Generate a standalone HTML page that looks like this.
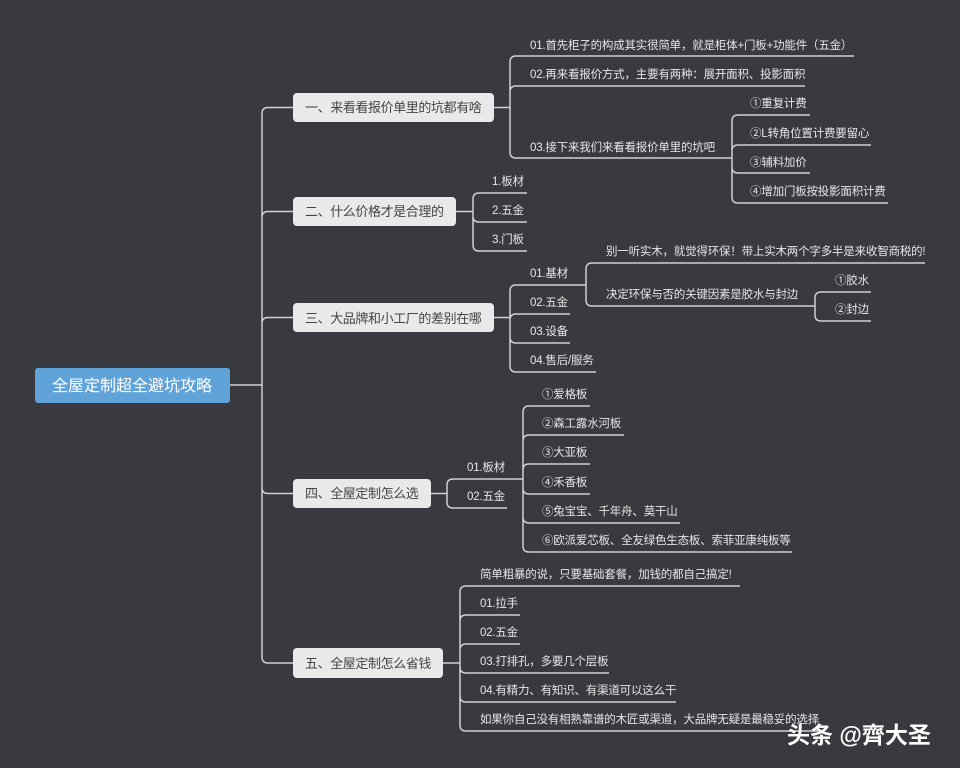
<!DOCTYPE html>
<html><head><meta charset="utf-8"><style>
html,body{margin:0;padding:0;background:#393a3f;}
svg{display:block}
text{font-family:"Liberation Sans","Noto Sans CJK SC",sans-serif;}
.m{font-size:13px;fill:#444;letter-spacing:-0.4px;}
.c{font-size:11.5px;fill:#e6e6e6;letter-spacing:-0.2px;}
</style></head><body>
<svg id="s" width="960" height="768" viewBox="0 0 960 768" xmlns="http://www.w3.org/2000/svg">
<rect width="960" height="768" fill="#393a3f"/>
<g id="lines" fill="none" stroke="#d0d0d0" stroke-width="1.5"></g>
<rect x="35" y="368" width="195" height="35" rx="3" fill="#5fa3d9"/>
<text x="132" y="391" text-anchor="middle" style="font-size:16px;fill:#fff">全屋定制超全避坑攻略</text>
<g fill="#e9e9e9">
<rect x="293" y="93" width="201" height="29" rx="4"/>
<rect x="293" y="197" width="163" height="29" rx="4"/>
<rect x="293" y="303" width="201" height="29" rx="4"/>
<rect x="293" y="479" width="138" height="29" rx="4"/>
<rect x="293" y="648" width="150" height="30" rx="4"/>
</g>
<text class="m" x="305" y="112">一、来看看报价单里的坑都有啥</text>
<text class="m" x="305" y="216">二、什么价格才是合理的</text>
<text class="m" x="305" y="323">三、大品牌和小工厂的差别在哪</text>
<text class="m" x="305" y="498">四、全屋定制怎么选</text>
<text class="m" x="305" y="668">五、全屋定制怎么省钱</text>
<g class="c">
<text x="530" y="49">01.首先柜子的构成其实很简单，就是柜体+门板+功能件（五金）</text>
<text x="530" y="78">02.再来看报价方式，主要有两种：展开面积、投影面积</text>
<text x="530" y="151">03.接下来我们来看看报价单里的坑吧</text>
<text x="750" y="107">①重复计费</text>
<text x="750" y="137">②L转角位置计费要留心</text>
<text x="750" y="166">③辅料加价</text>
<text x="750" y="195">④增加门板按投影面积计费</text>
<text x="492" y="185">1.板材</text>
<text x="492" y="214">2.五金</text>
<text x="492" y="243">3.门板</text>
<text x="530" y="277">01.基材</text>
<text x="530" y="306">02.五金</text>
<text x="530" y="335">03.设备</text>
<text x="530" y="364">04.售后/服务</text>
<text x="606" y="255">别一听实木，就觉得环保！带上实木两个字多半是来收智商税的!</text>
<text x="606" y="298">决定环保与否的关键因素是胶水与封边</text>
<text x="835" y="284">①胶水</text>
<text x="835" y="313">②封边</text>
<text x="467" y="471">01.板材</text>
<text x="467" y="500">02.五金</text>
<text x="542" y="398">①爱格板</text>
<text x="542" y="427">②森工露水河板</text>
<text x="542" y="456">③大亚板</text>
<text x="542" y="486">④禾香板</text>
<text x="542" y="515">⑤兔宝宝、千年舟、莫干山</text>
<text x="542" y="544">⑥欧派爱芯板、全友绿色生态板、索菲亚康纯板等</text>
<text x="480" y="578">简单粗暴的说，只要基础套餐，加钱的都自己搞定!</text>
<text x="480" y="607">01.拉手</text>
<text x="480" y="636">02.五金</text>
<text x="480" y="665">03.打排孔，多要几个层板</text>
<text x="480" y="694">04.有精力、有知识、有渠道可以这么干</text>
<text x="480" y="723">如果你自己没有相熟靠谱的木匠或渠道，大品牌无疑是最稳妥的选择</text>
</g>
<text x="787" y="743" style="font-size:23px;font-weight:bold;fill:#fff">头条 @齊大圣</text>
<script>
var g=document.getElementById('lines'),d='';
function br(px,py,bx,ch){
 d+='M'+px+','+py+'H'+bx;
 ch.forEach(function(c){var cy=c[0],e=c[1],r=6;
  if(Math.abs(cy-py)<1){d+='M'+bx+','+py+'H'+e;return;}
  var s=cy>py?1:-1;
  d+='M'+bx+','+py+'V'+(cy-s*r)+'Q'+bx+','+cy+' '+(bx+r)+','+cy+'H'+e;});
}
br(230,385,262,[[107.5,293],[211.5,293],[317.5,293],[493.5,293],[663,293]]);
br(494,107.5,510,[[56,854],[86,805],[158,732]]);
br(732,158,732,[[115,810],[145,871],[173,810],[203,888]]);
br(456,211.5,473,[[193,527],[222,527],[251,527]]);
br(494,317.5,510,[[285,586],[314,570],[343,570],[372,596]]);
br(586,285,586,[[263,925],[306,815]]);
br(815,306,815,[[292,871],[321,871]]);
br(431,493.5,447,[[479,523],[508,507]]);
br(523,479,523,[[406,590],[435,624],[464,590],[494,590],[523,680],[552,792]]);
br(443,663,460,[[586,740],[615,520],[644,520],[673,609],[702,676],[731,818]]);
var p=document.createElementNS('http://www.w3.org/2000/svg','path');p.setAttribute('d',d);g.appendChild(p);
</script>
</svg>
</body></html>
